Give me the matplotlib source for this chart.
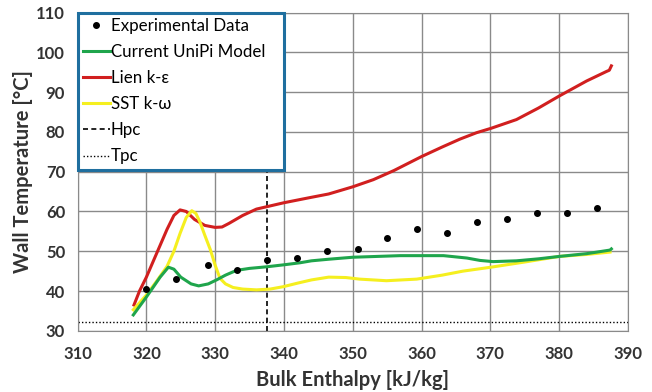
import numpy as np
import matplotlib.pyplot as plt

plt.rcParams['font.family'] = ['Lato', 'DejaVu Sans']

# experimental data
exp_h = [320.0, 324.3, 328.9, 333.2, 337.5, 341.9, 346.3, 350.7, 355.0, 359.4,
         363.7, 368.0, 372.4, 376.8, 381.1, 385.5]
exp_t = [40.5, 43.0, 46.6, 45.4, 47.7, 48.2, 50.0, 50.6, 53.3, 55.6,
         54.7, 57.4, 58.2, 59.6, 59.6, 60.9]

# Current UniPi model
unipi_h = [318.1, 320, 322, 323.2, 324, 325, 326.5, 327.6, 329, 330.2, 331.5, 333.1,
           335, 337.5, 340, 342.3, 344, 346.5, 350, 356.9, 363.2, 366.6, 368.5,
           370.4, 373.8, 377, 380, 384, 387.4, 387.6]
unipi_t = [34.0, 38.5, 43.5, 46.0, 45.5, 43.5, 41.8, 41.3, 41.8, 42.8, 44.0, 45.2,
           45.7, 46.1, 46.6, 47.1, 47.6, 48.0, 48.5, 48.9, 48.9, 48.3, 47.7,
           47.4, 47.6, 48.1, 48.7, 49.4, 50.3, 50.6]

# Lien k-eps
lien_h = [318.2, 319, 320, 321, 322, 323, 324, 324.9, 325.8, 327, 328.5, 330, 331,
          332, 334, 336, 337.5, 340, 343.8, 346.5, 350, 353, 356, 360, 363, 365.6,
          368, 370.1, 373.8, 377, 380, 384, 386.9, 387.3, 387.6]
lien_t = [36.5, 40.0, 43.5, 47.5, 51.5, 55.5, 59.0, 60.4, 60.0, 58.0, 56.5, 56.0, 56.1,
          57.0, 59.0, 60.6, 61.2, 62.2, 63.5, 64.4, 66.2, 68.0, 70.3, 73.8, 76.2, 78.2,
          79.8, 80.9, 83.1, 86.0, 89.0, 92.8, 95.2, 95.5, 96.6]

# SST k-omega
sst_h = [318.1, 320, 321.5, 323, 324, 324.9, 325.8, 326.6, 327.2, 327.8, 328.5, 329.3,
         330, 330.7, 331.5, 332.6, 334, 336, 338, 339.9, 342, 344, 346.5, 349, 351,
         354.9, 359.3, 363, 366, 370.1, 375, 380, 384, 387.4]
sst_t = [35.3, 39.0, 42.5, 46.2, 50.0, 54.5, 58.5, 60.2, 59.5, 57.3, 54.0, 50.4,
         46.5, 43.2, 41.8, 40.9, 40.5, 40.3, 40.5, 41.1, 42.0, 42.8, 43.5, 43.4, 43.0,
         42.6, 43.0, 44.0, 45.0, 46.0, 47.3, 48.7, 49.2, 49.8]

hpc = 337.6
tpc = 32.2

fig = plt.figure(figsize=(6.52, 3.92), dpi=100)
ax = fig.add_axes([0.119, 0.156, 0.844, 0.812])

ax.plot(exp_h, exp_t, 'o', color='black', markersize=4, label='Experimental Data', zorder=5)
ax.plot(unipi_h, unipi_t, color='#1fa54c', lw=2.2, label='Current UniPi Model', zorder=4)
ax.plot(lien_h, lien_t, color='#d11f1f', lw=2.2, label='Lien k-\u03b5', zorder=3)
ax.plot(sst_h, sst_t, color='#f5ef1f', lw=2.2, label='SST k-\u03c9', zorder=3)
ax.axvline(hpc, color='black', lw=1.2, ls=(0, (3, 2)), label='Hpc', zorder=2)
ax.axhline(tpc, color='black', lw=1.0, ls=(0, (1, 1.5)), label='Tpc', zorder=2)

ax.set_xlim(310, 390)
ax.set_ylim(30, 110)
ax.set_xticks(np.arange(310, 391, 10))
ax.set_yticks(np.arange(30, 111, 10))
ax.grid(True, color='#8a8a8a', lw=1.0)
ax.set_axisbelow(True)
for s in ax.spines.values():
    s.set_color('#8a8a8a')
ax.tick_params(length=0, labelsize=12, labelcolor='#333333')
ax.tick_params(axis='x', pad=11)
ax.tick_params(axis='y', pad=9)
for lab in ax.get_xticklabels() + ax.get_yticklabels():
    lab.set_fontweight('bold')

ax.set_xlabel('Bulk Enthalpy [kJ/kg]', fontsize=14.5, fontweight='bold', color='#333333',
              labelpad=6)
ax.set_ylabel('Wall Temperature [\u00b0C]', fontsize=14.5, fontweight='bold', color='#333333',
              labelpad=2)

leg = ax.legend(loc='upper left', bbox_to_anchor=(0, 0.503, 0.375, 0.497), mode='expand',
                fontsize=12.2, frameon=True, fancybox=False, framealpha=1,
                handlelength=1.6, handletextpad=0.05, labelspacing=0.6,
                borderpad=0.3, borderaxespad=0)
leg.get_frame().set_edgecolor('#1f6f9f')
leg.get_frame().set_linewidth(2.2)

fig.savefig('out.png', dpi=100)
